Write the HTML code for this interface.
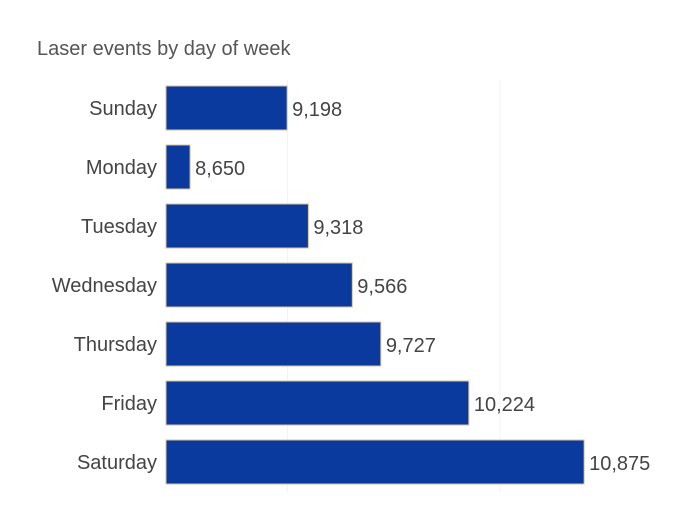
<!DOCTYPE html>
<html><head><meta charset="utf-8"><style>
body{margin:0;background:#fff;width:700px;height:512px;overflow:hidden;font-family:"Liberation Sans",sans-serif}
</style></head><body>
<svg width="700" height="512">
<text x="37" y="55" font-size="20" fill="#555">Laser events by day of week</text>
<g id="grid"></g><g id="bars"></g>
</svg>
<script>
const days=["Sunday","Monday","Tuesday","Wednesday","Thursday","Friday","Saturday"];
const counts=[9198,8650,9318,9566,9727,10224,10875];
const labels=["9,198","8,650","9,318","9,566","9,727","10,224","10,875"];
const x0=166,xMin=8514,k=0.1771;
const xs=v=>x0+(v-xMin)*k;
const ys=i=>108+i*59;
const ns="http://www.w3.org/2000/svg";
const g=document.getElementById('bars');
const gr=document.getElementById('grid');
[xs(9200),xs(10400)].forEach(x=>{const l=document.createElementNS(ns,'line');
l.setAttribute('x1',x);l.setAttribute('x2',x);l.setAttribute('y1',80);l.setAttribute('y2',492);l.setAttribute('stroke','#f3f3f3');


gr.appendChild(l);});
days.forEach((d,i)=>{
const y=ys(i);
const t=document.createElementNS(ns,'text');
t.setAttribute('x',157);t.setAttribute('y',y+7);t.setAttribute('text-anchor','end');t.setAttribute('font-size','20');t.setAttribute('fill','#444');
t.textContent=d;


g.appendChild(t);
const r=document.createElementNS(ns,'rect');
r.setAttribute('x',x0);r.setAttribute('y',y-22);r.setAttribute('width',xs(counts[i])-x0);r.setAttribute('height',44);
r.setAttribute('fill','#0b3a9f');r.setAttribute('stroke','#d8c49a');r.setAttribute('stroke-width','1');


g.appendChild(r);
const v=document.createElementNS(ns,'text');
v.setAttribute('x',xs(counts[i])+5);v.setAttribute('y',y+8);v.setAttribute('font-size','20');v.setAttribute('fill','#444');
v.textContent=labels[i];


g.appendChild(v);
});
</script>
</body></html>
